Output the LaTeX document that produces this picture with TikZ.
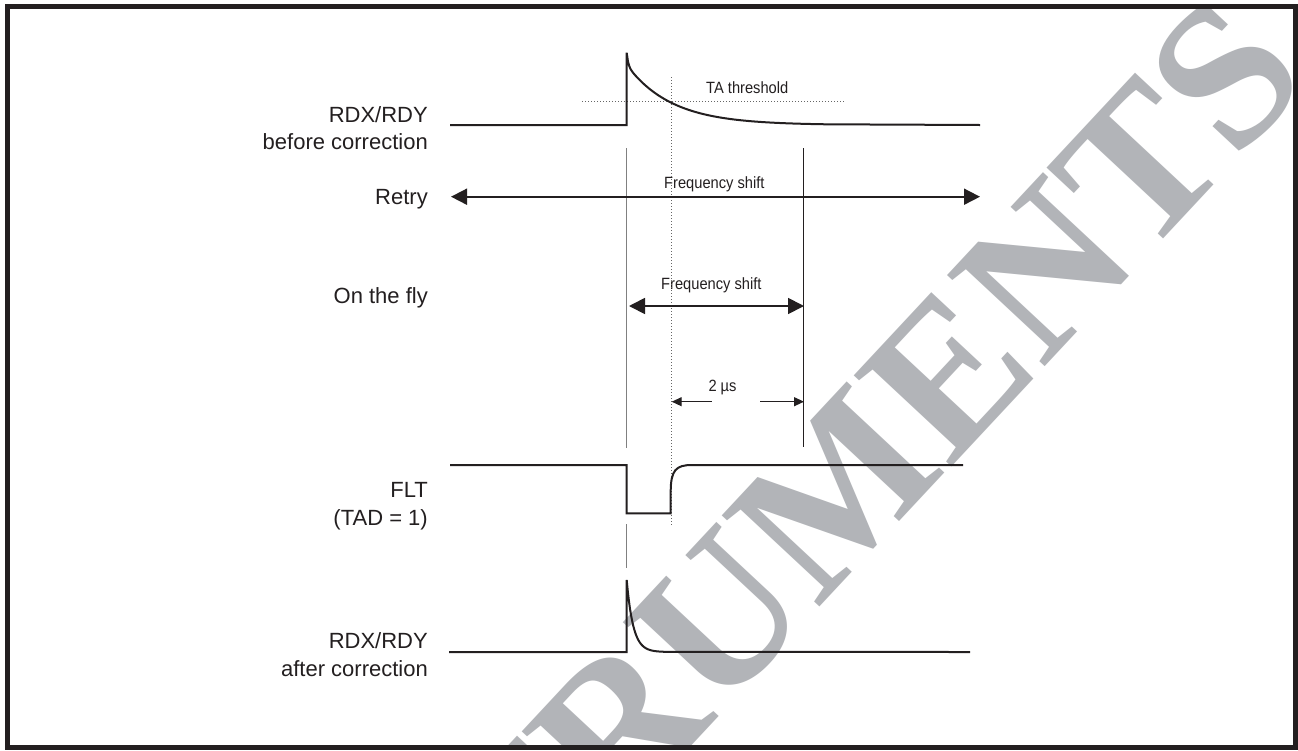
\documentclass[tikz,border=0pt]{standalone}
\usepackage{fontspec}
\setmainfont{Liberation Sans}
\newfontfamily\smallfont[FakeStretch=0.9]{Liberation Sans}
\newfontfamily\wmfont{Liberation Serif}
\usetikzlibrary{arrows.meta}
\definecolor{wmgray}{RGB}{178,180,184}
\definecolor{ink}{RGB}{35,31,32}
\begin{document}
\begin{tikzpicture}[x=1pt,y=-1pt,
  lbl/.style={inner sep=0pt,anchor=base east,font=\fontsize{22}{26}\selectfont,text=ink},
  slbl/.style={inner sep=0pt,anchor=base west,font=\smallfont\fontsize{16.3}{18}\selectfont,text=ink},
  wave/.style={draw=ink,line width=2pt,line join=miter},
  vgray/.style={draw=black!50,line width=1.4pt},
  vblack/.style={draw=ink,line width=1.1pt},
  dotline/.style={draw=black!60,line width=1pt,dash pattern=on 1pt off 2pt},
  bigarrow/.style={draw=ink,line width=1.8pt,{Triangle[length=16pt,width=16pt]}-{Triangle[length=16pt,width=16pt]}},
  smallarrow/.style={draw=ink,line width=1.2pt,-{Triangle[length=10pt,width=9pt]}},
  wm/.style={inner sep=0pt,text=wmgray,font=\wmfont\bfseries\fontsize{204}{204}\selectfont}
]
\useasboundingbox (0,0) rectangle (1298,750);
\fill[white] (0,0) rectangle (1298,750);

% watermark
\begin{scope}
  \clip (10,9) rectangle (1293,745);
  \node[wm,rotate=47,anchor=base east] (wmark) at (1313,79) {INSTRUMENTS};
\end{scope}

% labels
\node[lbl] (l1a) at (428,122) {RDX/RDY};
\node[lbl] (l1b) at (428,149) {before correction};
\node[lbl] (l2) at (428,204) {Retry};
\node[lbl] (l3) at (428,303) {On the fly};
\node[lbl] (l4a) at (428,497) {FLT};
\node[lbl] (l4b) at (428,525) {(TAD = 1)};
\node[lbl] (l5a) at (428,648) {RDX/RDY};
\node[lbl] (l5b) at (428,676) {after correction};

\node[slbl] (ta) at (706,93.3) {TA threshold};
\node[slbl] (fs1) at (664,188.5) {Frequency shift};
\node[slbl] (fs2) at (661,289) {Frequency shift};
\node[slbl] (us) at (708.3,391.7) {2 µs};

% guide lines
\draw[vgray] (626.7,148) -- (626.7,448);
\draw[vblack] (803.3,148) -- (803.3,447);
\draw[vgray] (626.7,524) -- (626.7,568);
\draw[dotline] (671,77) -- (671,526);
\draw[dotline] (582,101) -- (845,101);

% waveforms
\draw[wave] (450,125) -- (626.7,125) -- (626.7,52.7)
  -- plot[domain=0:200,samples=150] ({626.7+\x},{125-12*exp(-min(\x/1.5,20))-60*exp(-min(\x/45,20))})
  -- (980,125);
\draw[wave] (450,465) -- (626.7,465) -- (626.7,513.3) -- (670.7,513.3) -- (670.7,492)
  .. controls (670.7,470) and (676,465) .. (692,465) -- (963,465);
\draw[wave] (449,652) -- (626.7,652) -- (626.7,580)
  -- plot[domain=0:40,samples=60] ({626.7+\x},{652-72*exp(-min(\x/6.5,20))})
  -- (970,652);

% arrows
\coordinate (r1) at (451,196.7);
\coordinate (r2) at (980,196.7);
\coordinate (o1) at (629,306);
\coordinate (o2) at (804,306);
\coordinate (u1) at (711.7,401.7);
\coordinate (u2) at (671.7,401.7);
\coordinate (u3) at (760,401.7);
\coordinate (u4) at (804,401.7);
\draw[bigarrow] (r1) -- (r2);
\draw[bigarrow] (o1) -- (o2);
\draw[smallarrow] (u1) -- (u2);
\draw[smallarrow] (u3) -- (u4);

% frame
\draw[ink,line width=5pt] (7.5,6.5) rectangle (1295.5,747.5);
\end{tikzpicture}
\end{document}
